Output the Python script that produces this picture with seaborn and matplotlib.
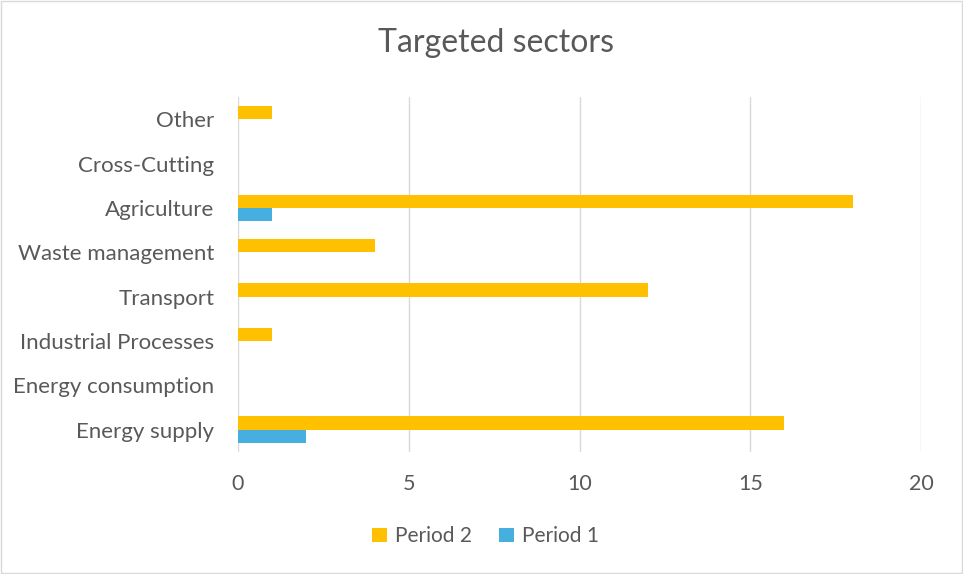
import pandas as pd
import matplotlib.pyplot as plt
import seaborn as sns

# Data
sectors = ["Other", "Cross-Cutting", "Agriculture", "Waste management", "Transport",
           "Industrial Processes", "Energy consumption", "Energy supply"]
period_2 = [1, 0, 18, 4, 12, 1, 0, 16]
period_1 = [0, 0, 1, 0, 0, 0, 0, 2]

df = pd.DataFrame({
    "Sector": sectors * 2,
    "Count": period_2 + period_1,
    "Period": ["Period 2"] * len(sectors) + ["Period 1"] * len(sectors),
})

sns.set_style("white")
plt.rcParams['font.family'] = ['Lato', 'DejaVu Sans']
text_color = "#595959"

fig = plt.figure(figsize=(9.63, 5.74), dpi=100)
ax = fig.add_axes([238 / 963, 1 - 452 / 574, (921 - 238) / 963, (452 - 97) / 574])

sns.barplot(data=df, y="Sector", x="Count", hue="Period", order=sectors,
            hue_order=["Period 2", "Period 1"],
            palette={"Period 2": "#FFC000", "Period 1": "#47AEE0"},
            saturation=1, linewidth=0,
            width=0.6, orient="h", ax=ax, legend=True)

ax.set_xlim(0, 20)
ax.set_xticks([0, 5, 10, 15, 20])
ax.grid(axis="x", color="#D9D9D9", linewidth=1)
ax.set_axisbelow(True)
for s in ax.spines.values():
    s.set_visible(False)
ax.tick_params(axis="both", length=0, labelsize=15.5, colors=text_color)
ax.tick_params(axis="y", labelsize=16, pad=17)
ax.tick_params(axis="x", pad=16)
ax.set_xlabel("")
ax.set_ylabel("")

leg = ax.legend(loc="center", bbox_to_anchor=(0.363, -0.237), ncol=2, frameon=False,
                fontsize=15, handlelength=0.7, handleheight=0.7, handletextpad=0.4,
                columnspacing=1.3)
for t in leg.get_texts():
    t.set_color(text_color)

fig.text(496 / 963, 1 - 43 / 574, "Targeted sectors", ha="center", va="center",
         fontsize=23, color=text_color)

# Light frame around the chart area
fig.patches.append(plt.Rectangle((0.001, 0.001), 0.998, 0.998, transform=fig.transFigure,
                                 fill=False, edgecolor="#D9D9D9", linewidth=1))

fig.savefig("out.png", dpi=100)
